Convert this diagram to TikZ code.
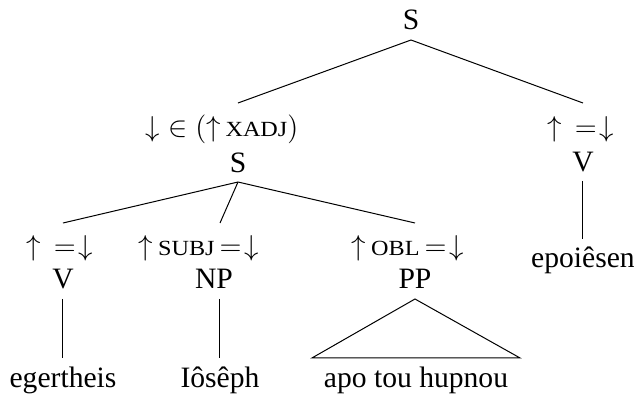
\documentclass[tikz,border=0pt]{standalone}
\usepackage{graphicx}
\usepackage{fontspec}
\setmainfont{Liberation Serif}
\newfontfamily\trm{Liberation Serif}
\newcommand\fsc[1]{\scalebox{1.12}[1]{\fontsize{10.8}{12}\selectfont #1}}
\newcommand\upeqdown{$\uparrow\mkern3mu{=}\mkern2mu{\downarrow}$}
\begin{document}
\begin{tikzpicture}[x=0.5pt,y=-0.5pt,line width=0.5pt,
  every node/.style={font=\trm\fontsize{14.8}{17}\selectfont,inner sep=0pt,outer sep=0pt,
    text height=16.5pt,text depth=5pt,anchor=base},
  leaf/.style={text height=14.5pt}]
\useasboundingbox (0,0) rectangle (634,396);
% nodes
\node (S0) at (411,30) {S};
\node (L1) at (222,136) {$\downarrow\;\in(\uparrow$\,\fsc{XADJ}$)$};
\node (S1) at (238,172) {S};
\node (L2) at (581,136) {\upeqdown};
\node (V2) at (583,171) {V};
\node[leaf] (W4) at (583,268) {epoiêsen};
\node (La) at (60,256) {\upeqdown};
\node (Va) at (63,289) {V};
\node[leaf] (Wa) at (63,387) {egertheis};
\node (Lb) at (199,256) {$\uparrow$\,\fsc{SUBJ}\,${=}\mkern2mu{\downarrow}$};
\node (NP) at (214,289) {NP};
\node[leaf] (Wb) at (220,387) {Iôsêph};
\node (Lc) at (408,256) {$\uparrow$\,\fsc{OBL}\,${=}\mkern2mu{\downarrow}$};
\node (PP) at (415,289) {PP};
\node[leaf,inner xsep=6pt] (Wc) at (416,387) {apo tou hupnou};
% connectors
\draw (S0.south) -- (S1 |- L1.north);
\draw (S0.south) -- (V2 |- L2.north);
\draw (V2.south) -- (W4.north);
\draw (S1.south) -- (Va |- La.north);
\draw (S1.south) -- (Wb |- Lb.north);
\draw (S1.south) -- (PP |- Lc.north);
\draw (Va.south) -- (Wa.north);
\draw (Wb |- NP.south) -- (Wb.north);
\draw (PP.south) -- (Wc.north west) -- (Wc.north east) -- cycle;
\end{tikzpicture}
\end{document}
